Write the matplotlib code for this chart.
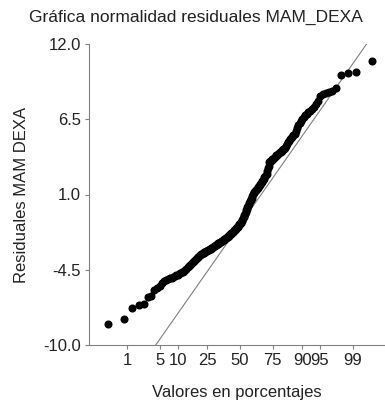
import matplotlib
matplotlib.use("Agg")
import matplotlib.pyplot as plt
import numpy as np
from statistics import NormalDist

plt.rcParams['font.family'] = ['Liberation Sans', 'DejaVu Sans']

# Sorted residuals
residuals = [
    -8.47, -8.12, -7.26, -7.11, -7.03, -6.50, -6.40, -5.95, -5.85, -5.70,
    -5.50, -5.33, -5.26, -5.20, -5.13, -5.07, -5.01, -4.96, -4.90, -4.85,
    -4.80, -4.75, -4.70, -4.65, -4.58, -4.50, -4.41, -4.33, -4.25, -4.17,
    -4.10, -4.02, -3.95, -3.87, -3.81, -3.74, -3.67, -3.60, -3.54, -3.47,
    -3.41, -3.37, -3.34, -3.30, -3.26, -3.23, -3.19, -3.16, -3.12, -3.09,
    -3.06, -3.02, -2.99, -2.95, -2.92, -2.88, -2.85, -2.81, -2.78, -2.74,
    -2.71, -2.67, -2.64, -2.61, -2.57, -2.54, -2.50, -2.47, -2.44, -2.41,
    -2.38, -2.34, -2.31, -2.27, -2.23, -2.19, -2.15, -2.11, -2.07, -2.04,
    -2.00, -1.96, -1.92, -1.88, -1.84, -1.81, -1.77, -1.73, -1.68, -1.62,
    -1.56, -1.51, -1.46, -1.41, -1.35, -1.29, -1.24, -1.19, -1.14, -1.08,
    -1.03, -0.97, -0.84, -0.73, -0.62, -0.50, -0.39, -0.26, -0.15, -0.05,
    0.08, 0.19, 0.29, 0.38, 0.49, 0.57, 0.66, 0.76, 0.92, 1.05,
    1.13, 1.19, 1.24, 1.30, 1.36, 1.42, 1.48, 1.54, 1.60, 1.66,
    1.74, 1.82, 1.91, 2.00, 2.07, 2.16, 2.25, 2.34, 2.45, 2.52,
    2.72, 2.94, 3.05, 3.38, 3.42, 3.47, 3.52, 3.57, 3.63, 3.69,
    3.75, 3.81, 3.87, 3.92, 3.97, 4.02, 4.07, 4.13, 4.18, 4.23,
    4.29, 4.34, 4.42, 4.55, 4.70, 4.85, 4.94, 5.03, 5.13, 5.23,
    5.33, 5.44, 5.62, 5.84, 6.08, 6.23, 6.37, 6.53, 6.67, 6.78,
    6.89, 7.00, 7.13, 7.27, 7.43, 7.60, 7.85, 8.18, 8.37, 8.43,
    8.49, 8.58, 8.75, 9.73, 9.86, 9.98, 10.78,
]

# reference line (normal fit)
ref_mean = -1.21
ref_sd = 5.06

pct_ticks = [1, 5, 10, 25, 50, 75, 90, 95, 99]
y_ticks = [-10.0, -4.5, 1.0, 6.5, 12.0]

nd = NormalDist()
n = len(residuals)
# Blom plotting positions -> normal quantiles
probs = (np.arange(1, n + 1) - 0.375) / (n + 0.25)
zq = np.array([nd.inv_cdf(p) for p in probs])

fig = plt.figure(figsize=(3.85, 4.0), dpi=100)
ax = fig.add_axes([89 / 385, 55 / 400, 296 / 385, 301 / 400])

ax.axline((0, ref_mean), slope=ref_sd, color='#808080', lw=0.8, zorder=1)
ax.plot(zq, residuals, 'o', color='black', markersize=4.8, zorder=2)

ax.set_xlim(-3.113, 2.99)
ax.set_ylim(-10, 12)
ax.set_xticks([nd.inv_cdf(p / 100) for p in pct_ticks])
ax.set_xticklabels([str(p) for p in pct_ticks])
ax.set_yticks(y_ticks)
ax.set_yticklabels(['%.1f' % v for v in y_ticks])

for side in ['top', 'right']:
    ax.spines[side].set_visible(False)
for side in ['left', 'bottom']:
    ax.spines[side].set_color('#808080')
    ax.spines[side].set_linewidth(0.8)
ax.tick_params(axis='both', direction='out', length=3, width=0.8,
               color='#808080', labelsize=12, labelcolor='#222222')
ax.tick_params(axis='x', pad=3)
ax.tick_params(axis='y', pad=3)

ax.set_xlabel('Valores en porcentajes', fontsize=12, labelpad=12, color='#222222')
ax.set_ylabel('Residuales MAM DEXA', fontsize=12, labelpad=10, color='#222222')
fig.text(196 / 385, 1 - 17 / 400, 'Gráfica normalidad residuales MAM_DEXA',
         ha='center', va='center', fontsize=12.5, color='#222222')

fig.savefig('out.png', dpi=100)
